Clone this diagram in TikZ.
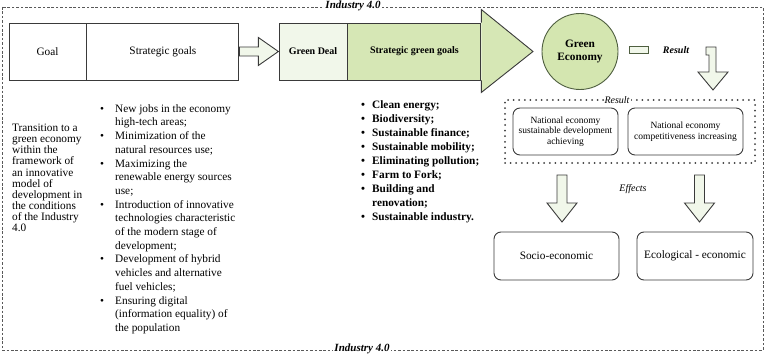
\documentclass[tikz,border=0pt]{standalone}
\usepackage{fontspec}
\usepackage{array}
\setmainfont{Liberation Serif}
\usetikzlibrary{positioning, calc, arrows.meta}

\begin{document}
\begin{tikzpicture}[
  x=1pt, y=-1pt,
  font=\fontsize{11.3}{13.7}\selectfont,
  box/.style={draw=cLine, line width=0.9pt, minimum height=57pt, inner sep=0pt},
  rbox/.style={draw=cLine, line width=0.9pt, rounded corners=7pt,
               align=center, inner sep=2pt},
  hollow/.style={draw=cLine, line width=0.9pt, fill=cPale, line join=miter},
  lbl/.style={fill=white, inner sep=1.5pt, font=\bfseries\itshape\fontsize{11}{12}\selectfont},
  dotframe/.style={draw=cLine, line width=2pt, line cap=round,
                   dash pattern=on 0pt off 5.6pt, inner sep=0pt},
  pics/fatdown/.style={code={
    \draw[hollow] (-5,0) -- (5,0) -- (5,28) -- (15,28) -- (0,47)
                  -- (-15,28) -- (-5,28) -- cycle;
  }},
]

\definecolor{cLine}   {HTML}{3A3A3A}
\definecolor{cGreen}  {HTML}{D6E7B5}
\definecolor{cPale}   {HTML}{F1F7EA}
\definecolor{cCircle} {HTML}{D4E6B0}
\definecolor{cDkGreen}{HTML}{4F5F40}

\useasboundingbox (0,0) rectangle (768,355);

% =====================================================================
% Industry 4.0 frame
% =====================================================================
\draw[gray!70!black, line width=0.6pt, dash pattern=on 2.6pt off 1.8pt]
  (2,7) rectangle (763,350);
\node[lbl] (indTop) at (353,6) {Industry 4.0};
\node[lbl] (indBot) at (362,349) {Industry 4.0};

% =====================================================================
% Top row: goals -> green deal -> green economy
% =====================================================================
\node[box, minimum width=77pt] (goal) at (47.5,51.5) {Goal};
\node[box, minimum width=152pt, right=0pt of goal] (stratGoals) {Strategic goals};

% hollow arrow between the two blocks
\draw[hollow] ($(stratGoals.east)+(0,-4.5)$) -- ++(19,0) -- ++(0,-9.5)
  -- ++(20,14) -- ++(-20,14) -- ++(0,-9.5) -- ++(-19,0) -- cycle;

\node[box, fill=cPale, minimum width=68pt, font=\bfseries] (greenDeal) at (313,51.5) {Green Deal};
\node[box, fill=cGreen, minimum width=133pt, right=0pt of greenDeal,
      font=\bfseries] (stratGreen) {Strategic green goals};

% big green arrow head
\filldraw[fill=cGreen, draw=cLine, line width=0.9pt, line join=miter]
  (stratGreen.north east) -- ++(0,-13) -- (533,51.5)
  -- ($(stratGreen.south east)+(0,12)$) -- (stratGreen.south east);

\node[circle, draw=cDkGreen, fill=cCircle, line width=0.9pt, minimum size=76pt,
      align=center, font=\bfseries\fontsize{11.3}{13}\selectfont]
      (greenEco) at (580,51.5) {Green\\Economy};

\node[draw=cDkGreen, fill=cPale, line width=0.9pt, minimum width=19pt,
      minimum height=7pt, inner sep=0pt] (resMark) at (638.5,50) {};
\node[font=\bfseries\itshape, inner sep=0pt] (resText) at (676,50) {Result};

% bent arrow down to the result frame
\draw[hollow] (706,47) -- (716,47) -- (716,72) -- (728,72) -- (713,90)
  -- (698,72) -- (709,72) -- (709,55) -- (706,55) -- cycle;

% =====================================================================
% Result frame
% =====================================================================
\node[dotframe, minimum width=250pt, minimum height=63pt] (resFrame) at (630,131.5) {};
\node[fill=white, inner sep=1pt, font=\itshape\fontsize{10}{10}\selectfont]
  (resLabel) at (617,100) {Result};

\node[rbox, minimum width=105pt, minimum height=47pt, font=\fontsize{9.5}{10.5}\selectfont]
  (natSust) at (565.5,131.5) {National economy\\sustainable development\\achieving};
\node[rbox, minimum width=115pt, minimum height=47pt, font=\fontsize{9.5}{10.5}\selectfont]
  (natComp) at (685.5,131.5) {National economy\\competitiveness increasing};

% =====================================================================
% Effects
% =====================================================================
\pic at (562,175) {fatdown};
\pic at (699.5,175) {fatdown};
\node[font=\itshape] (effects) at (633,189) {Effects};

\node[rbox, minimum width=125pt, minimum height=48pt] (socio) at (556.5,256) {Socio-economic};
\node[rbox, minimum width=116pt, minimum height=48pt] (ecol) at (695,256) {Ecological - economic};

% =====================================================================
% Texts under the top row
% =====================================================================
\node[anchor=north west, align=left, inner sep=0pt,
      font=\fontsize{11.3}{11.1}\selectfont] (goalText) at (12,124)
  {Transition to a\\green economy\\within the\\framework of\\an innovative\\model of\\
   development in\\the conditions\\of the Industry\\4.0};

\node[anchor=north west, inner sep=0pt] (goalList) at (100,102.5) {%
  \begin{tabular}{@{}p{15pt}@{}>{\raggedright\arraybackslash}p{134pt}@{}}
  \textbullet & New jobs in the economy\newline high-tech areas;\\
  \textbullet & Minimization of the\newline natural resources use;\\
  \textbullet & Maximizing the\newline renewable energy sources\newline use;\\
  \textbullet & Introduction of innovative\newline technologies characteristic\newline
                of the modern stage of\newline development;\\
  \textbullet & Development of hybrid\newline vehicles and alternative\newline fuel vehicles;\\
  \textbullet & Ensuring digital\newline (information equality) of\newline the population
  \end{tabular}};

\node[anchor=north west, inner sep=0pt, font=\bfseries\fontsize{11.3}{14}\selectfont]
  (greenList) at (361,99) {%
  \begin{tabular}{@{}p{11pt}@{}>{\raggedright\arraybackslash}p{120pt}@{}}
  \textbullet & Clean energy;\\
  \textbullet & Biodiversity;\\
  \textbullet & Sustainable finance;\\
  \textbullet & Sustainable mobility;\\
  \textbullet & Eliminating pollution;\\
  \textbullet & Farm to Fork;\\
  \textbullet & Building and\newline renovation;\\
  \textbullet & Sustainable industry.
  \end{tabular}};

\end{tikzpicture}
\end{document}
